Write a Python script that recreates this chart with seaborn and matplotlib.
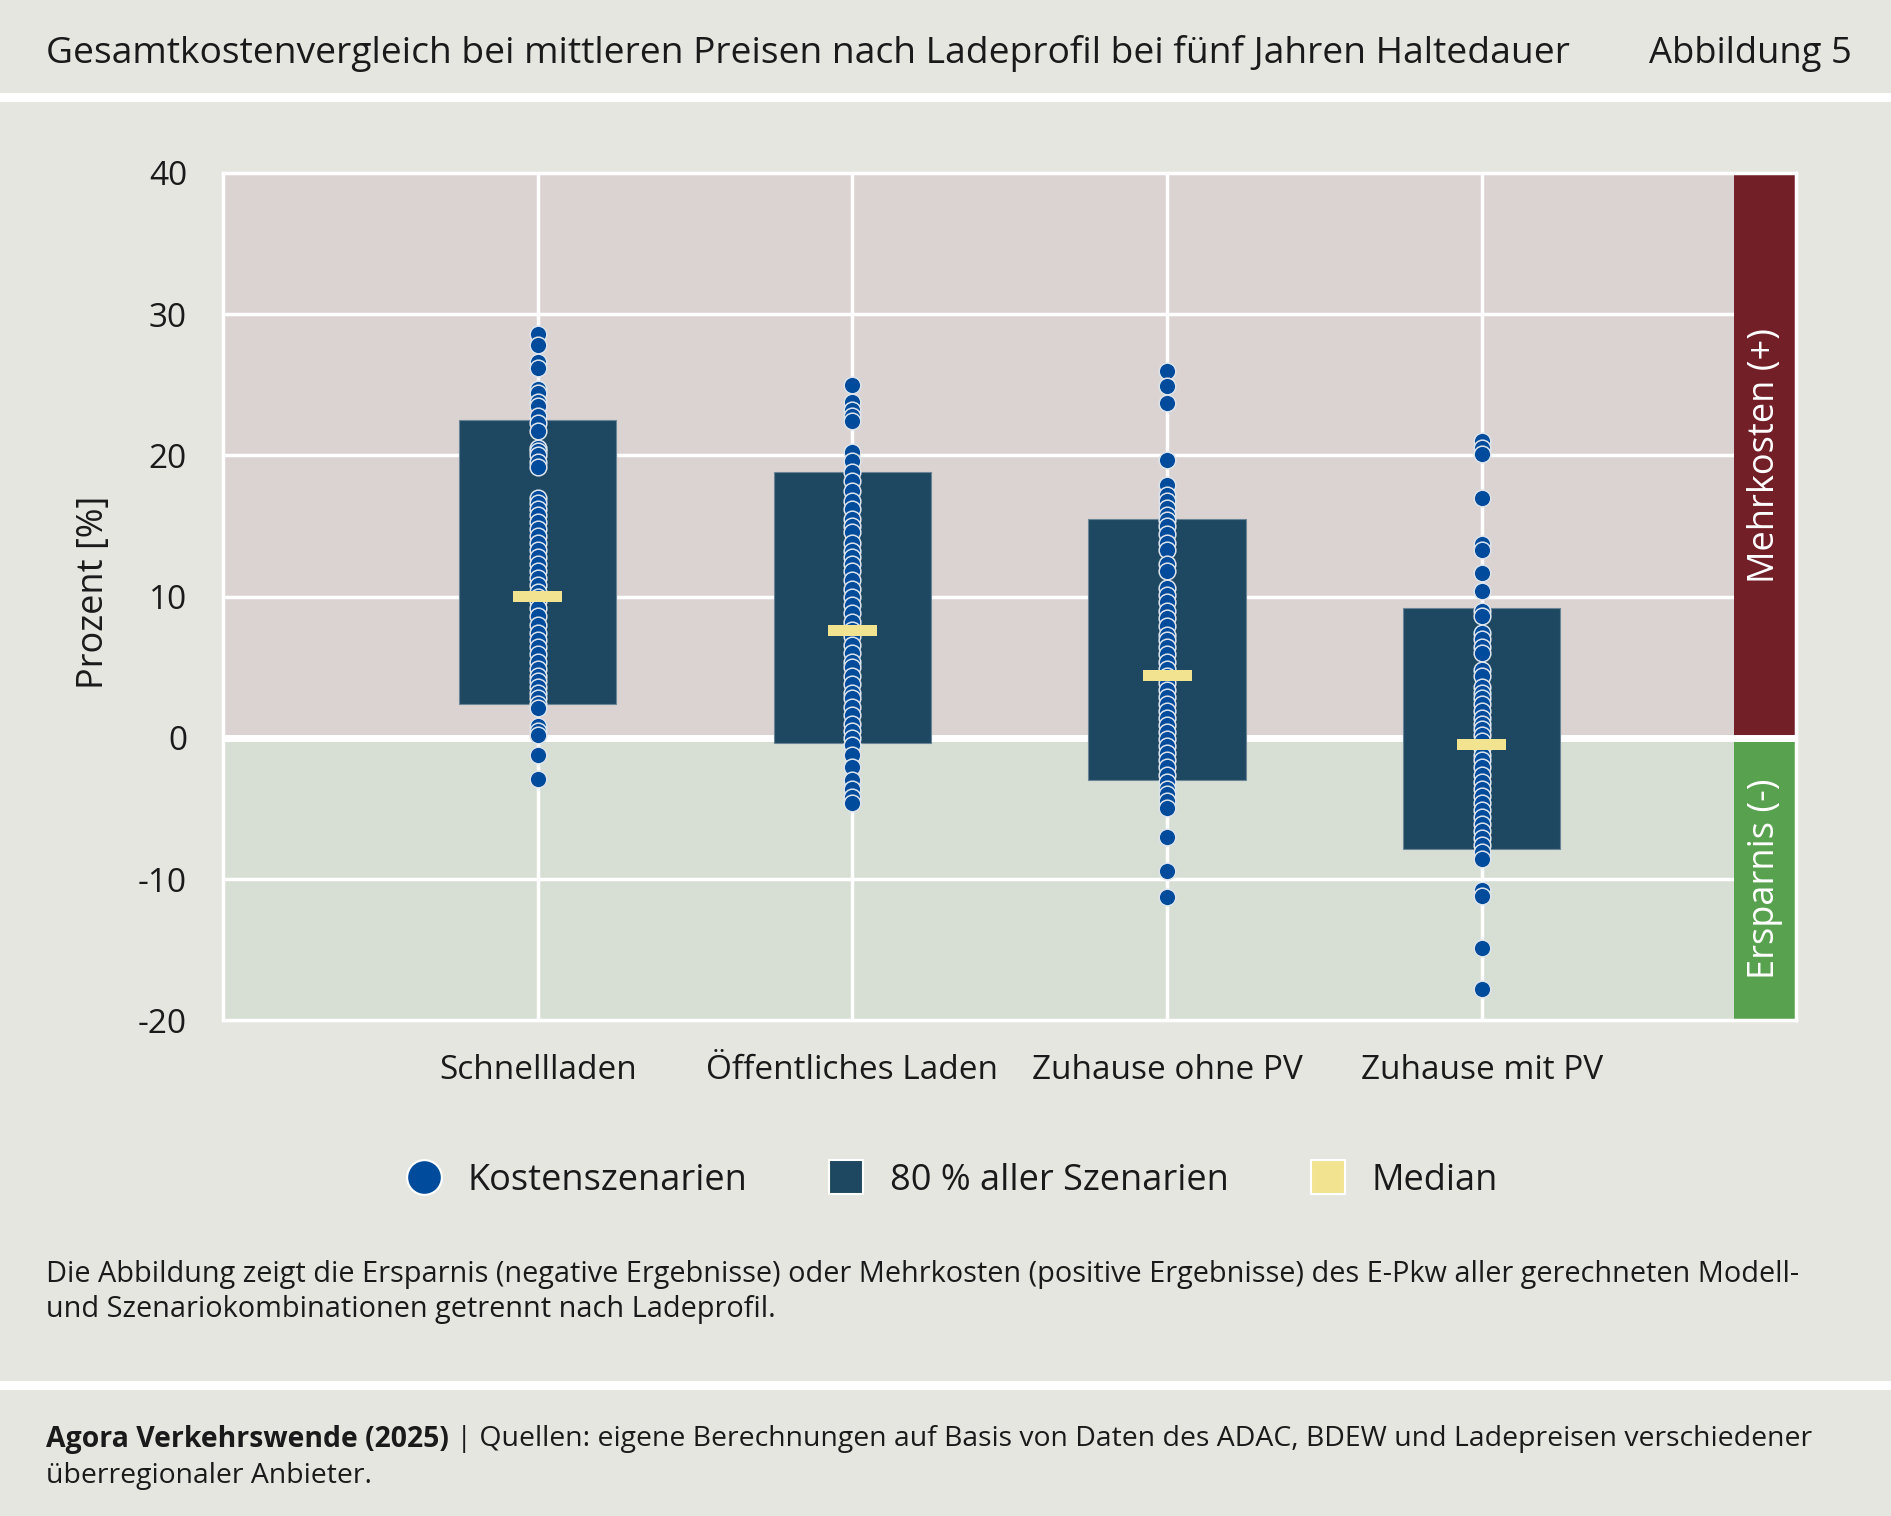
import numpy as np
import pandas as pd
import matplotlib
matplotlib.use('Agg')
import matplotlib.pyplot as plt
from matplotlib.patches import Rectangle
from matplotlib.lines import Line2D
import seaborn as sns

# ============================================================
# DATEN
# ============================================================

kategorien = ['Schnellladen', 'Öffentliches Laden', 'Zuhause ohne PV', 'Zuhause mit PV']

schnellladen = [28.6, 27.8, 26.6, 26.2, 24.7, 24.4, 23.8, 23.5, 22.8, 22.3, 21.7, 20.5,
                20.3, 20.0, 19.5, 19.2, 17.0, 16.6, 16.2, 15.8, 15.3, 14.8, 14.3, 13.8,
                13.3, 12.8, 12.3, 11.8, 11.3, 10.8, 10.3, 10.0, 9.7, 9.2, 8.6, 8.0, 7.4,
                6.9, 6.4, 5.9, 5.4, 4.9, 4.4, 4.0, 3.6, 3.2, 2.8, 2.4, 2.1, 0.8, 0.5, 0.2,
                -1.2, -2.9]
oeffentlich = [25.0, 23.8, 23.2, 22.8, 22.4, 20.2, 19.6, 18.8, 18.2, 17.5, 16.8, 16.2,
               15.5, 15.0, 14.6, 13.8, 13.2, 12.8, 12.3, 11.8, 11.2, 10.5, 10.0, 9.4, 8.8,
               8.2, 7.6, 7.2, 6.6, 6.0, 5.4, 5.0, 4.4, 3.8, 3.2, 2.8, 2.2, 1.6, 1.0, 0.5,
               0.0, -0.5, -1.2, -2.1, -3.0, -3.6, -4.2, -4.6]
zuhause_ohne = [26.0, 24.9, 23.7, 19.7, 17.9, 17.2, 16.8, 16.3, 15.8, 15.4, 15.0, 14.4,
                13.8, 13.3, 12.3, 11.8, 10.6, 10.1, 9.6, 9.0, 8.5, 7.9, 7.3, 6.9, 6.4,
                5.9, 5.4, 4.9, 4.4, 3.9, 3.4, 2.9, 2.4, 1.9, 1.4, 0.9, 0.4, -0.1, -0.6,
                -1.1, -1.6, -2.1, -2.6, -3.1, -3.6, -4.0, -4.5, -5.0, -7.0, -9.4, -11.3]
zuhause_mit = [21.0, 20.5, 20.1, 17.0, 13.7, 13.3, 11.7, 10.4, 9.0, 8.6, 7.4, 7.0, 6.4,
               6.0, 4.8, 4.4, 3.6, 3.2, 2.8, 2.4, 1.9, 1.4, 1.0, 0.6, 0.2, -0.2, -0.7,
               -1.2, -1.6, -2.1, -2.6, -3.1, -3.6, -4.1, -4.6, -5.1, -5.6, -6.1, -6.6,
               -7.1, -7.6, -8.1, -8.6, -10.8, -11.2, -14.9, -17.8]

# 80 % aller Szenarien (untere / obere Grenze) und Median
p10 = [2.4, -0.4, -3.0, -7.9]
p90 = [22.5, 18.8, 15.5, 9.2]
median = [10.0, 7.6, 4.4, -0.5]

y_ticks = [-20, -10, 0, 10, 20, 30, 40]

# ============================================================
# FARBEN
# ============================================================

panel_grau = '#e6e6e1'
oben_bg = '#dbd3d1'
unten_bg = '#d7ded4'
rot = '#721f27'
gruen = '#58a14e'
balken_farbe = '#1e4861'
punkt_farbe = '#004b9b'
median_farbe = '#f1e390'
text_farbe = '#1a1a1a'

sns.set_style('white')
plt.rcParams['font.family'] = ['Open Sans', 'DejaVu Sans']
plt.rcParams['text.color'] = text_farbe

# tabelle für seaborn
df = pd.DataFrame({
    'profil': sum([[k] * len(v) for k, v in zip(kategorien,
                   [schnellladen, oeffentlich, zuhause_ohne, zuhause_mit])], []),
    'wert': schnellladen + oeffentlich + zuhause_ohne + zuhause_mit,
})

fig = plt.figure(figsize=(18.91, 15.16), dpi=100)
fig.patch.set_facecolor('white')

# graue hintergrundflächen
for y0, h in [(0.9387, 0.0613), (0.0891, 0.9327 - 0.0891), (0.0, 0.0831)]:
    fig.add_artist(Rectangle((0, y0), 1, h, transform=fig.transFigure,
                             facecolor=panel_grau, edgecolor='none', zorder=-10))

ax = fig.add_axes([0.118, 0.327, 0.832, 0.559])
ax.set_facecolor('none')

# farbige bereiche
ax.add_patch(Rectangle((-1, 0), 4.8, 40, facecolor=oben_bg, edgecolor='none', zorder=0))
ax.add_patch(Rectangle((-1, -20), 4.8, 20, facecolor=unten_bg, edgecolor='none', zorder=0))

# gitterlinien
for yt in [-10, 10, 20, 30]:
    ax.plot([-1, 3.8], [yt, yt], color='white', lw=2.5, zorder=1)
for i in range(len(kategorien)):
    ax.plot([i, i], [-20, 40], color='white', lw=2.5, zorder=1)

# seitenband
ax.add_patch(Rectangle((3.8, 0), 0.2, 40, facecolor=rot, edgecolor='none', zorder=1.2))
ax.add_patch(Rectangle((3.8, -20), 0.2, 20, facecolor=gruen, edgecolor='none', zorder=1.2))
ax.text(3.9, 20, 'Mehrkosten (+)', rotation=90, color='white', fontsize=26,
        ha='center', va='center', zorder=5)
ax.text(3.9, -10, 'Ersparnis (-)', rotation=90, color='white', fontsize=26,
        ha='center', va='center', zorder=5)

# nulllinie
ax.plot([-1, 4], [0, 0], color='white', lw=5, zorder=1.5)

# balken 80 %
x_pos = np.arange(len(kategorien))
ax.bar(x_pos, np.array(p90) - np.array(p10), bottom=p10, width=0.5,
       color=balken_farbe, edgecolor='#6a8597', linewidth=0.8, zorder=2)

# einzelne szenarien
sns.stripplot(data=df, x='profil', y='wert', order=kategorien, jitter=False,
              color=punkt_farbe, size=12, edgecolor='#dde4ec', linewidth=1.1,
              ax=ax, zorder=3)

# median
ax.bar(x_pos, 0.8, bottom=np.array(median) - 0.4, width=0.155,
       color=median_farbe, edgecolor='none', zorder=4)

ax.set_xlim(-1, 4)
ax.set_ylim(-20, 40)
ax.set_yticks(y_ticks)
ax.set_yticklabels([str(t) for t in y_ticks], fontsize=24)
ax.set_xticks(x_pos)
ax.set_xticklabels(kategorien, fontsize=24)
ax.tick_params(axis='y', length=0, pad=26, colors=text_farbe)
ax.tick_params(axis='x', length=0, pad=24, colors=text_farbe)
ax.set_xlabel('')
ax.set_ylabel('')
for sp in ax.spines.values():
    sp.set_color('white')
    sp.set_linewidth(2.5)
    sp.set_zorder(6)

fig.text(0.0497, 0.609, 'Prozent [%]', rotation=90, fontsize=26, ha='center', va='center')

# legende
handles = [
    Line2D([], [], marker='o', linestyle='none', markersize=25,
           markerfacecolor=punkt_farbe, markeredgecolor='white', markeredgewidth=1.5),
    Line2D([], [], marker='s', linestyle='none', markersize=25,
           markerfacecolor=balken_farbe, markeredgecolor='white', markeredgewidth=1.5),
    Line2D([], [], marker='s', linestyle='none', markersize=25,
           markerfacecolor=median_farbe, markeredgecolor='white', markeredgewidth=1.5),
]
fig.legend(handles, ['Kostenszenarien', '80 % aller Szenarien', 'Median'],
           loc='center', bbox_to_anchor=(0.4985, 0.221), ncol=3, frameon=False,
           fontsize=26, handlelength=2.0, handletextpad=0.2, columnspacing=1.75)

# titel
fig.text(0.0243, 0.9645, 'Gesamtkostenvergleich bei mittleren Preisen nach Ladeprofil bei fünf Jahren Haltedauer',
         fontsize=26.8, ha='left', va='center')
fig.text(0.979, 0.9645, 'Abbildung 5', fontsize=26.2, ha='right', va='center')

# fußnote
fig.text(0.0243, 0.159, 'Die Abbildung zeigt die Ersparnis (negative Ergebnisse) oder Mehrkosten (positive Ergebnisse) des E-Pkw aller gerechneten Modell-',
         fontsize=20.8, ha='left', va='center')
fig.text(0.0243, 0.136, 'und Szenariokombinationen getrennt nach Ladeprofil.',
         fontsize=20.8, ha='left', va='center')

# quelle
t = fig.text(0.0243, 0.0505, 'Agora Verkehrswende (2025)', fontsize=20.4, weight='bold',
             ha='left', va='center')
fig.canvas.draw()
bb = t.get_window_extent(renderer=fig.canvas.get_renderer())
fig.text(bb.x1 / fig.bbox.width, 0.0505,
         ' | Quellen: eigene Berechnungen auf Basis von Daten des ADAC, BDEW und Ladepreisen verschiedener',
         fontsize=20.4, ha='left', va='center')
fig.text(0.0243, 0.0265, 'überregionaler Anbieter.', fontsize=20.4, ha='left', va='center')

plt.savefig('out.png', dpi=100, facecolor=fig.get_facecolor())
plt.close()
print('out.png gespeichert.')
